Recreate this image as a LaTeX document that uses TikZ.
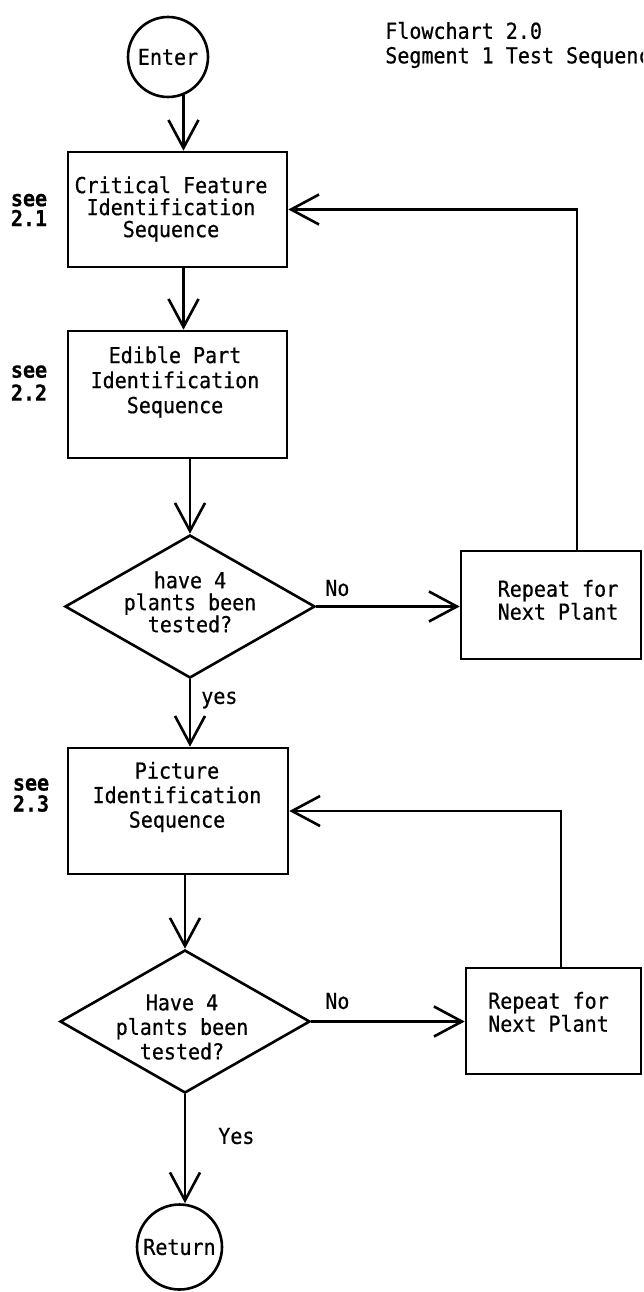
\documentclass[tikz,border=0pt]{standalone}
\usepackage{fontspec}
\newfontfamily\tw[FakeStretch=0.91,FakeBold=0.6]{DejaVu Sans Mono}
\usetikzlibrary{arrows.meta,shapes.geometric}
\begin{document}
\begin{tikzpicture}[x=1pt,y=-1pt,
  line width=2.6pt,
  every node/.style={font=\tw\fontsize{22}{23}\selectfont},
  box/.style={draw, rectangle, inner sep=0pt},
  term/.style={draw, circle, inner sep=0pt, minimum size=#1},
  dec/.style={draw, diamond, inner sep=0pt, minimum width=250pt, minimum height=143pt},
  txt/.style={align=center, inner sep=0pt, font=\tw\fontsize{22}{#1}\selectfont},
  see/.style={align=center, inner sep=0pt, font=\tw\bfseries\fontsize{22}{#1}\selectfont},
  lbl/.style={inner sep=0pt, anchor=west},
  arr/.style={-{Straight Barb[length=28pt,width=30pt]}},
]
\useasboundingbox (0,0) rectangle (643,1292);
\clip (0,0) rectangle (643,1292);

% title
\node[align=left, inner sep=0pt, anchor=west, font=\tw\fontsize{22}{24.5}\selectfont] (title) at (384,45) {Flowchart 2.0\\Segment 1 Test Sequence};

% terminals
\node[term=80pt] (enter) at (168,57) {Enter};
\node[term=85pt] (ret) at (179.5,1247) {Return};

% process boxes
\node[box, minimum width=219pt, minimum height=115pt] (box1) at (177.5,209.5) {};
\node[txt=22] (t1) at (171,209) {Critical Feature\\Identification\\Sequence};
\node[see=20] (see1) at (29,210) {see\\2.1};

\node[box, minimum width=219pt, minimum height=127pt] (box2) at (177.5,394.5) {};
\node[txt=25] (t2) at (175,382) {Edible Part\\Identification\\Sequence};
\node[see=23] (see2) at (29,383) {see\\2.2};

\node[box, minimum width=220pt, minimum height=126pt] (box3) at (178,811) {};
\node[txt=24.5] (t3) at (177,797) {Picture\\Identification\\Sequence};
\node[see=21] (see3) at (31,795) {see\\2.3};

% decisions
\node[dec] (dia1) at (190,606.5) {};
\node[txt=22] (dq1) at (190,602) {have 4\\plants been\\tested?};
\node[dec] (dia2) at (185,1021.5) {};
\node[txt=24.5] (dq2) at (182,1027) {Have 4\\plants been\\tested?};

% repeat boxes
\node[box, minimum width=180pt, minimum height=108pt] (rep1) at (551,605) {};
\node[txt=23] (r1) at (558,600) {Repeat for\\Next Plant};
\node[box, minimum width=175pt, minimum height=106pt] (rep2) at (553.5,1021) {};
\node[txt=23] (r2) at (548.5,1012) {Repeat for\\Next Plant};

% labels
\node[lbl] (no1) at (324,588) {No};
\node[lbl] (no2) at (324,1001) {No};
\node[lbl] (yes1) at (200,700) {yes};
\node[lbl] (yes2) at (217,1136) {Yes};

% connectors
\draw[arr] (enter.-68) -- (enter.-68 |- box1.north);
\draw[arr] ([xshift=6pt]box1.south) -- ([xshift=6pt]box2.north);
\draw[arr] (dia1.north |- box2.south) -- (dia1.north);
\draw[arr] (dia1.south) -- (dia1.south |- box3.north);
\draw[arr] (dia2.north |- box3.south) -- (dia2.north);
\draw[arr] (dia2.south) -- (dia2.south |- ret.north);
\draw[arr] (dia1.east) -- (dia1.east -| rep1.west);
\draw[arr] ([xshift=26pt]rep1.north) |- (box1.east);
\draw[arr] (dia2.east) -- (dia2.east -| rep2.west);
\draw[arr] ([xshift=7.5pt]rep2.north) |- (box3.east);
\end{tikzpicture}
\end{document}
